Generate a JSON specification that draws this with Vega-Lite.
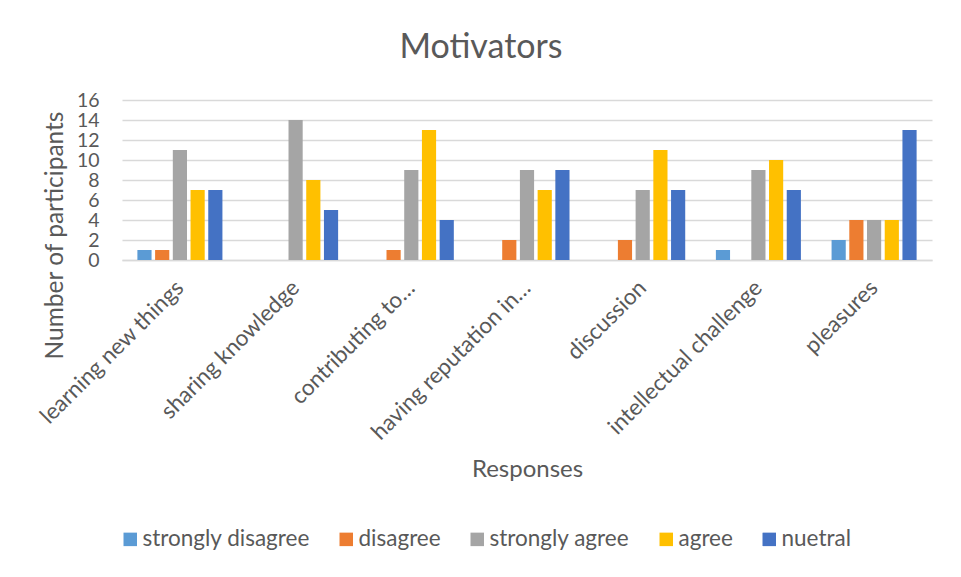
{
  "$schema": "https://vega.github.io/schema/vega-lite/v6.json",
  "autosize": {"type": "none"},
  "width": 810,
  "height": 160,
  "padding": {"left": 122, "top": 100, "right": 29, "bottom": 317},
  "background": "white",
  "title": {
    "text": "Motivators",
    "font": "Lato",
    "fontSize": 34,
    "fontWeight": "normal",
    "color": "#595959",
    "anchor": "middle",
    "frame": "group",
    "baseline": "alphabetic",
    "offset": -2,
    "dx": -46
  },
  "data": {
    "values": [
      {"motivator": "learning new things", "response": "strongly disagree", "count": 1},
      {"motivator": "learning new things", "response": "disagree", "count": 1},
      {"motivator": "learning new things", "response": "strongly agree", "count": 11},
      {"motivator": "learning new things", "response": "agree", "count": 7},
      {"motivator": "learning new things", "response": "nuetral", "count": 7},
      {"motivator": "sharing knowledge", "response": "strongly disagree", "count": 0},
      {"motivator": "sharing knowledge", "response": "disagree", "count": 0},
      {"motivator": "sharing knowledge", "response": "strongly agree", "count": 14},
      {"motivator": "sharing knowledge", "response": "agree", "count": 8},
      {"motivator": "sharing knowledge", "response": "nuetral", "count": 5},
      {"motivator": "contributing to…", "response": "strongly disagree", "count": 0},
      {"motivator": "contributing to…", "response": "disagree", "count": 1},
      {"motivator": "contributing to…", "response": "strongly agree", "count": 9},
      {"motivator": "contributing to…", "response": "agree", "count": 13},
      {"motivator": "contributing to…", "response": "nuetral", "count": 4},
      {"motivator": "having reputation in…", "response": "strongly disagree", "count": 0},
      {"motivator": "having reputation in…", "response": "disagree", "count": 2},
      {"motivator": "having reputation in…", "response": "strongly agree", "count": 9},
      {"motivator": "having reputation in…", "response": "agree", "count": 7},
      {"motivator": "having reputation in…", "response": "nuetral", "count": 9},
      {"motivator": "discussion", "response": "strongly disagree", "count": 0},
      {"motivator": "discussion", "response": "disagree", "count": 2},
      {"motivator": "discussion", "response": "strongly agree", "count": 7},
      {"motivator": "discussion", "response": "agree", "count": 11},
      {"motivator": "discussion", "response": "nuetral", "count": 7},
      {"motivator": "intellectual challenge", "response": "strongly disagree", "count": 1},
      {"motivator": "intellectual challenge", "response": "disagree", "count": 0},
      {"motivator": "intellectual challenge", "response": "strongly agree", "count": 9},
      {"motivator": "intellectual challenge", "response": "agree", "count": 10},
      {"motivator": "intellectual challenge", "response": "nuetral", "count": 7},
      {"motivator": "pleasures", "response": "strongly disagree", "count": 2},
      {"motivator": "pleasures", "response": "disagree", "count": 4},
      {"motivator": "pleasures", "response": "strongly agree", "count": 4},
      {"motivator": "pleasures", "response": "agree", "count": 4},
      {"motivator": "pleasures", "response": "nuetral", "count": 13}
    ]
  },
  "mark": {"type": "bar"},
  "encoding": {
    "x": {
      "field": "motivator",
      "type": "nominal",
      "sort": null,
      "scale": {"paddingInner": 0.265, "paddingOuter": 0.133},
      "axis": {
        "title": "Responses",
        "titleFont": "Lato",
        "titleFontSize": 24,
        "titleFontWeight": "normal",
        "titleColor": "#595959",
        "titleX": 405,
        "titleY": 216,
        "titleAlign": "center",
        "titleBaseline": "alphabetic",
        "labelAngle": -45,
        "labelAlign": "right",
        "labelBaseline": "middle",
        "labelPadding": 24,
        "labelFont": "Lato",
        "labelFontSize": 22.5,
        "labelColor": "#595959",
        "labelLimit": 400,
        "labelOverlap": false,
        "ticks": false,
        "domainColor": "#D9D9D9",
        "domainWidth": 1.3
      }
    },
    "xOffset": {
      "field": "response",
      "type": "nominal",
      "scale": {
        "domain": ["strongly disagree", "disagree", "strongly agree", "agree", "nuetral"],
        "paddingInner": 0.2
      }
    },
    "y": {
      "field": "count",
      "type": "quantitative",
      "scale": {"domain": [0, 16]},
      "axis": {
        "title": "Number of participants",
        "titleFont": "Lato",
        "titleFontSize": 24.5,
        "titleFontWeight": "normal",
        "titleColor": "#595959",
        "titleX": -60,
        "titleY": 135,
        "titleAlign": "center",
        "titleBaseline": "alphabetic",
        "titleAngle": -90,
        "values": [0, 2, 4, 6, 8, 10, 12, 14, 16],
        "labelOverlap": false,
        "labelFont": "Lato",
        "labelFontSize": 19.5,
        "labelColor": "#595959",
        "labelPadding": 23,
        "domain": false,
        "ticks": false,
        "gridColor": "#D9D9D9",
        "gridWidth": 1.3
      }
    },
    "color": {
      "field": "response",
      "type": "nominal",
      "scale": {
        "domain": ["strongly disagree", "disagree", "strongly agree", "agree", "nuetral"],
        "range": ["#5B9BD5", "#ED7D31", "#A5A5A5", "#FFC000", "#4472C4"]
      },
      "legend": {
        "title": null,
        "orient": "none",
        "direction": "horizontal",
        "legendX": -3,
        "legendY": 428,
        "padding": 0,
        "symbolType": "square",
        "symbolSize": 182,
        "symbolStrokeWidth": 0,
        "labelFont": "Lato",
        "labelFontSize": 22.5,
        "labelColor": "#595959",
        "labelOffset": 1,
        "columnPadding": 25,
        "labelLimit": 400
      }
    }
  },
  "config": {
    "view": {"stroke": null}
  }
}
